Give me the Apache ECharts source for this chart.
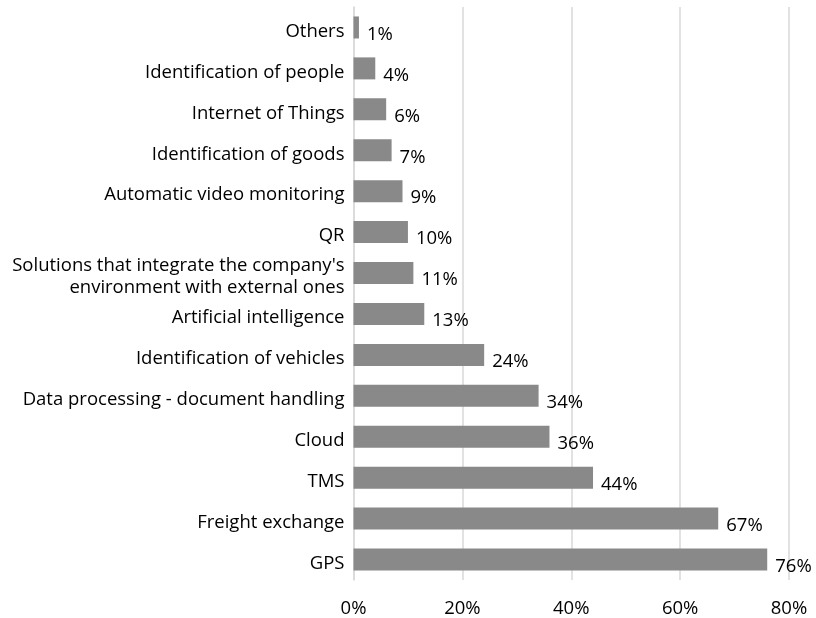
<!DOCTYPE html>
<html><head><meta charset="utf-8">
<script src="https://cdn.jsdelivr.net/npm/echarts@6/dist/echarts.min.js"></script>
<style>html,body{margin:0;padding:0;background:#fff}#c{width:816px;height:618px}</style>
</head><body><div id="c"></div>
<script>
const categories = ["GPS","Freight exchange","TMS","Cloud","Data processing - document handling","Identification of vehicles","Artificial intelligence","Solutions that integrate the company's\nenvironment with external ones","QR","Automatic video monitoring","Identification of goods","Internet of Things","Identification of people","Others"];
const values = [76,67,44,36,34,24,13,11,10,9,7,6,4,1];
const tickLabels = [0,20,40,60,80];
const FONT = "Open Sans";
const FS = 18.5;
const chart = echarts.init(document.getElementById('c'), null, {renderer:'canvas'});
chart.setOption({
  animation:false,
  grid:{left:353.5,right:27,top:7,bottom:38,containLabel:false},
  xAxis:{type:'value',min:0,max:80,interval:20,
    axisLine:{show:false},axisTick:{show:false},
    splitLine:{show:true,lineStyle:{color:'#d9d9d9',width:1.5}},
    axisLabel:{formatter:v=>v+'%',color:'#000',fontFamily:FONT,fontSize:FS,margin:19,
      customValues:tickLabels}},
  yAxis:{type:'category',data:categories,
    axisLine:{show:true,lineStyle:{color:'#d9d9d9',width:1.5}},axisTick:{show:false},
    axisLabel:{color:'#000',fontFamily:FONT,fontSize:FS,margin:9,lineHeight:22,align:'right',
      formatter:v=>'{s|}\n'+v.split('\n').map(l=>'{b|'+l+'}').join('\n'),
      rich:{s:{fontSize:4,lineHeight:8,height:8},
            b:{fontFamily:FONT,fontSize:FS,lineHeight:22,height:22,color:'#000'}}}},
  series:[{type:'bar',data:values,barWidth:22,
    itemStyle:{color:'#898989'},
    label:{show:true,position:'right',distance:8,offset:[0,7],formatter:p=>p.value+'%',
      color:'#000',fontFamily:FONT,fontSize:FS}}]
});
</script></body></html>
